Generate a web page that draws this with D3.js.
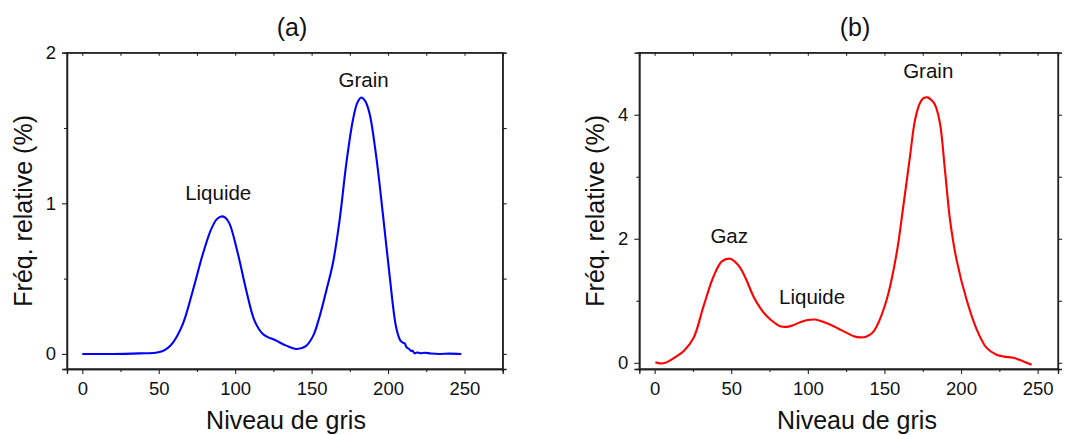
<!DOCTYPE html>
<html>
<head>
<meta charset="utf-8">
<script src="https://cdn.jsdelivr.net/npm/d3@7/dist/d3.min.js"></script>
<style>
  html, body { margin: 0; padding: 0; background: #fff; }
  svg { display: block; font-family: "Liberation Sans", Arial, sans-serif; }
</style>
</head>
<body>
<svg id="chart" width="1069" height="435"></svg>
<script>
// ---------- data ----------
const xTicks = [0, 50, 100, 150, 200, 250];
const xMinorTicksA = [25, 75, 125, 175, 225, 275];
const xMinorTicksB = [25, 75, 125, 175, 225];
const yTicksA = [0, 1, 2];
const yMinorTicksA = [0.5, 1.5];
const yTicksB = [0, 2, 4];
const yMinorTicksB = [1, 3, 5];

// Panel (a): grey level vs relative frequency (blue)
const greyA = [0, 20, 37.5, 48, 52.7, 56, 59.3, 65.8, 72.3, 78.9, 84.4, 88, 90.9, 93.5, 96.3, 101.8, 107.3, 112.7, 118.1, 126.9, 133.4, 140, 146, 151, 155, 159.6, 163.9, 168.3, 172.7, 177, 180, 182.5, 185, 187.9, 192.3, 196.6, 200.9, 205.3, 208, 209.7, 211, 212, 213.5, 215, 216, 217.3, 219, 221, 224, 228, 233.7, 240, 248];
const freqA = [0, 0, 0.004, 0.008, 0.02, 0.04, 0.075, 0.2, 0.42, 0.665, 0.83, 0.895, 0.913, 0.905, 0.865, 0.665, 0.42, 0.22, 0.133, 0.088, 0.055, 0.033, 0.05, 0.12, 0.24, 0.42, 0.6, 0.887, 1.264, 1.552, 1.67, 1.703, 1.68, 1.597, 1.308, 0.931, 0.532, 0.177, 0.09, 0.075, 0.07, 0.045, 0.035, 0.02, 0.022, 0.004, 0.01, 0.005, 0.008, 0.003, 0.0, 0.002, 0.0];

// Panel (b): grey level vs relative frequency (red)
const greyB = [0.5, 3.7, 7, 10.2, 14, 18.9, 25.4, 31.9, 38.5, 43.9, 48.9, 52, 55.9, 60, 64.5, 69, 73.3, 78, 81.9, 86.3, 90, 95, 100, 104.8, 109, 114.5, 120, 125.4, 130, 134.1, 138, 142, 145, 151.5, 158, 162.3, 166.7, 170, 173.2, 175.7, 178.2, 180.5, 183, 186.2, 189.5, 192.8, 197.1, 203.6, 210.2, 216.7, 223.2, 228, 234, 240, 246];
const freqB = [0.01, -0.01, 0.0, 0.04, 0.1, 0.187, 0.4, 0.91, 1.395, 1.636, 1.68, 1.64, 1.53, 1.33, 1.07, 0.88, 0.75, 0.65, 0.59, 0.58, 0.6, 0.654, 0.69, 0.697, 0.67, 0.617, 0.55, 0.483, 0.43, 0.41, 0.42, 0.48, 0.59, 1.02, 1.77, 2.52, 3.33, 3.92, 4.19, 4.27, 4.28, 4.24, 4.16, 3.87, 3.11, 2.31, 1.66, 1.02, 0.54, 0.24, 0.13, 0.1, 0.08, 0.03, -0.03];

// Annotations (text, grey level, frequency)
const labelsA = [["Liquide", 88.9, 1.022], ["Grain", 184, 1.774]];
const labelsB = [["Gaz", 48.7, 1.932], ["Liquide", 102.8, 0.948], ["Grain", 178.6, 4.589]];

const titles = ["(a)", "(b)"];
const xTitle = "Niveau de gris";
const yTitle = "Fréq. relative (%)";

// ---------- drawing ----------
const svg = d3.select("#chart");
const plotTop = 52.7, plotBottom = 369;

function panel(o) {
  const x = d3.scaleLinear().domain(o.xDomain).range([o.left, o.right]);
  const y = d3.scaleLinear().domain(o.yDomain).range([plotBottom, plotTop]);
  const g = svg.append("g");
  const w = o.right - o.left;

  g.append("path")
    .datum(o.xs.map((v, i) => [v, o.ys[i]]))
    .attr("fill", "none")
    .attr("stroke", o.color)
    .attr("stroke-width", 2.1)
    .attr("stroke-linejoin", "round")
    .attr("d", d3.line().x(d => x(d[0])).y(d => y(d[1])).curve(d3.curveCatmullRom.alpha(0.5)));

  const axisColor = "#222";
  g.append("g").attr("transform", `translate(0,${plotBottom})`)
    .call(d3.axisBottom(x).tickValues(xTicks).tickSize(5).tickPadding(8));
  g.append("g").attr("transform", `translate(0,${plotBottom})`)
    .call(d3.axisBottom(x).tickValues(o.xMinor).tickSize(3).tickFormat(""));
  g.append("g").attr("transform", `translate(0,${plotTop})`)
    .call(d3.axisBottom(x).tickValues(xTicks.concat(o.xMinor)).tickSize(3).tickFormat(""));
  g.append("g").attr("transform", `translate(${o.left},0)`)
    .call(d3.axisLeft(y).tickValues(o.yTicks).tickSize(5).tickPadding(6).tickFormat(d3.format("d")));
  g.append("g").attr("transform", `translate(${o.left},0)`)
    .call(d3.axisLeft(y).tickValues(o.yMinor).tickSize(3).tickFormat(""));
  g.append("g").attr("transform", `translate(${o.right},0)`)
    .call(d3.axisRight(y).tickValues(o.yTicks.concat(o.yMinor)).tickSize(4).tickFormat(""));

  g.selectAll(".domain").attr("stroke", axisColor).attr("stroke-width", 1.3);
  g.selectAll(".tick line").attr("stroke", axisColor).attr("stroke-width", 1.1);
  g.selectAll(".tick text").attr("font-size", 18.5).attr("fill", "#111")
    .attr("font-family", "'Liberation Sans', Arial, sans-serif");

  g.append("rect").attr("x", o.left).attr("y", plotTop).attr("width", w).attr("height", plotBottom - plotTop)
    .attr("fill", "none").attr("stroke", axisColor).attr("stroke-width", 1.3);

  g.selectAll("text.lab").data(o.labels).enter().append("text")
    .attr("class", "lab")
    .attr("x", d => x(d[1])).attr("y", d => y(d[2]))
    .attr("text-anchor", "middle").attr("font-size", 20.5).attr("fill", "#111")
    .text(d => d[0]);

  g.append("text").attr("x", o.titleX).attr("y", 36)
    .attr("text-anchor", "middle").attr("font-size", 25).attr("fill", "#111").text(o.title);
  g.append("text").attr("x", o.xTitleX).attr("y", 429)
    .attr("text-anchor", "middle").attr("font-size", 25).attr("fill", "#111").text(xTitle);
  g.append("text")
    .attr("transform", `translate(${o.yTitleX},${(plotTop + plotBottom) / 2}) rotate(-90)`)
    .attr("text-anchor", "middle").attr("font-size", 25).attr("fill", "#111").text(yTitle);
}

panel({left: 67, right: 502.7, xDomain: [-10, 275], xMinor: xMinorTicksA, title: titles[0], titleX: 292, xTitleX: 286,
  xs: greyA, ys: freqA, yDomain: [-0.1, 2], yTicks: yTicksA, yMinor: yMinorTicksA, labels: labelsA, color: "#0000ff", yTitleX: 32});
panel({left: 639.3, right: 1058, xDomain: [-10, 263.3], xMinor: xMinorTicksB, title: titles[1], titleX: 855, xTitleX: 857,
  xs: greyB, ys: freqB, yDomain: [-0.1, 5], yTicks: yTicksB, yMinor: yMinorTicksB, labels: labelsB, color: "#ff0000", yTitleX: 603.5});
</script>
</body>
</html>
